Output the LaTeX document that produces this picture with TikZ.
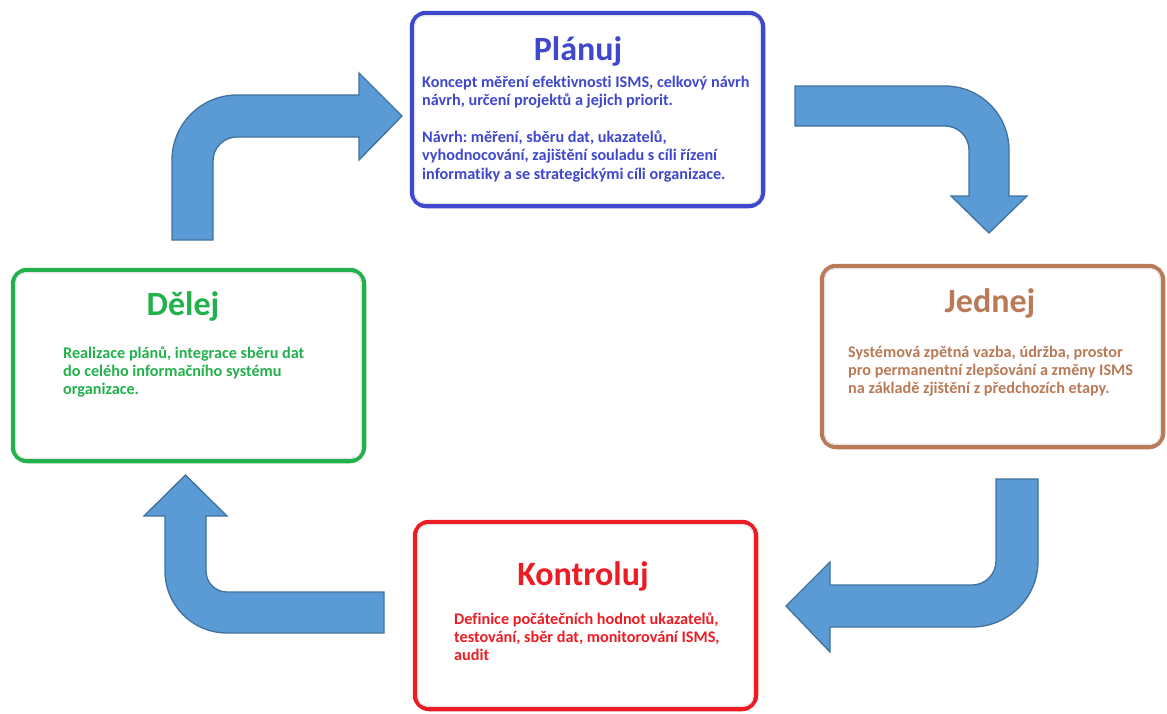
\documentclass[tikz,border=0pt]{standalone}
\usepackage{fontspec}
\setmainfont[Ligatures=NoCommon]{Carlito}
\frenchspacing
\definecolor{planblue}{HTML}{3F48CC}
\definecolor{dogreen}{HTML}{22B14C}
\definecolor{actbrown}{HTML}{B97A57}
\definecolor{checkred}{HTML}{ED1C24}
\definecolor{arrowfill}{HTML}{5B9BD5}
\definecolor{arrowline}{HTML}{41719C}
% rows of left-aligned text; the block's baseline is that of its first row
\newcommand\blocklines[1]{\vtop{\halign{##\hfil\cr#1\crcr}}}
\tikzset{
  phasebox/.style={draw=#1, line width=4.5pt, rounded corners=14pt, fill=white, inner sep=0pt},
  innerhaze/.style={draw=black!10, line width=1.2pt, rounded corners=10pt},
  phasetitle/.style={text=#1, anchor=base, inner sep=0pt, font=\fontsize{34}{40}\selectfont\bfseries},
  phasetext/.style={text=#1, anchor=base west, inner sep=0pt, font=\fontsize{16.2}{18.4}\selectfont\bfseries},
  bentarrow/.style={fill=arrowfill, draw=arrowline, line width=1.3pt, line join=miter},
}
\begin{document}
\begin{tikzpicture}[x=1pt, y=-1pt]
\useasboundingbox (0,0) rectangle (1167,713);
\fill[white] (0,0) rectangle (1167,713);

% phase boxes
\node[phasebox=planblue, minimum width=351pt, minimum height=193pt] (plan) at (587.5,109.5) {};
\node[phasebox=dogreen, minimum width=351pt, minimum height=191pt] (do) at (188.5,365.5) {};
\node[phasebox=actbrown, minimum width=341pt, minimum height=181pt] (act) at (992.5,356.5) {};
\node[phasebox=checkred, minimum width=341pt, minimum height=187pt] (check) at (585.5,615.5) {};

% faint inner rims
\draw[innerhaze] ([xshift=5pt,yshift=-5pt]plan.north west) rectangle ([xshift=-5pt,yshift=5pt]plan.south east);
\draw[innerhaze] ([xshift=5pt,yshift=-5pt]do.north west) rectangle ([xshift=-5pt,yshift=5pt]do.south east);
\draw[innerhaze] ([xshift=5pt,yshift=-5pt]act.north west) rectangle ([xshift=-5pt,yshift=5pt]act.south east);
\draw[innerhaze] ([xshift=5pt,yshift=-5pt]check.north west) rectangle ([xshift=-5pt,yshift=5pt]check.south east);

% titles
\node[phasetitle=planblue] (plantitle) at (578,60) {Plánuj};
\node[phasetitle=dogreen] (dotitle) at (183,315) {Dělej};
\node[phasetitle=actbrown] (acttitle) at (990,312) {Jednej};
\node[phasetitle=checkred] (checktitle) at (583,585) {Kontroluj};

% descriptions
\node[phasetext=planblue] (plantext) at (422,87) {\blocklines{%
Koncept měření efektivnosti ISMS, celkový návrh\cr
návrh, určení projektů a jejich priorit.\cr
\cr
Návrh: měření, sběru dat, ukazatelů,\cr
vyhodnocování, zajištění souladu s cíli řízení\cr
informatiky a se strategickými cíli organizace.}};
\node[phasetext=dogreen] (dotext) at (63,358) {\blocklines{%
Realizace plánů, integrace sběru dat\cr
do celého informačního systému\cr
organizace.}};
\node[phasetext=actbrown] (acttext) at (848,357) {\blocklines{%
Systémová zpětná vazba, údržba, prostor\cr
pro permanentní zlepšování a změny ISMS\cr
na základě zjištění z předchozích etapy.}};
\node[phasetext=checkred] (checktext) at (454,624) {\blocklines{%
Definice počátečních hodnot ukazatelů,\cr
testování, sběr dat, monitorování ISMS,\cr
audit}};

% bent block arrows of the cycle
\draw[bentarrow] (172,240) -- (172,160) arc[start angle=180, end angle=270, radius=65]
  -- (359,95) -- (359,73) -- (402,116) -- (359,160) -- (359,137) -- (237,137)
  arc[start angle=270, end angle=180, radius=24] -- (213,240) -- cycle;
\draw[bentarrow] (795,86) -- (945,86) arc[start angle=270, end angle=360, radius=64]
  -- (1009,196) -- (1027,196) -- (989,233) -- (951,196) -- (969,196) -- (969,150)
  arc[start angle=0, end angle=-90, radius=24] -- (795,126) -- cycle;
\draw[bentarrow] (996,479) -- (1038,479) -- (1038,561) arc[start angle=0, end angle=90, radius=66]
  -- (830,627) -- (830,652) -- (786,606) -- (830,562) -- (830,585) -- (972,585)
  arc[start angle=90, end angle=0, radius=24] -- cycle;
\draw[bentarrow] (384,633) -- (227,633) arc[start angle=90, end angle=180, radius=62]
  -- (165,516) -- (144,516) -- (185.5,475) -- (227,516) -- (206,516) -- (206,571)
  arc[start angle=180, end angle=90, radius=21] -- (384,592) -- cycle;
\end{tikzpicture}
\end{document}
